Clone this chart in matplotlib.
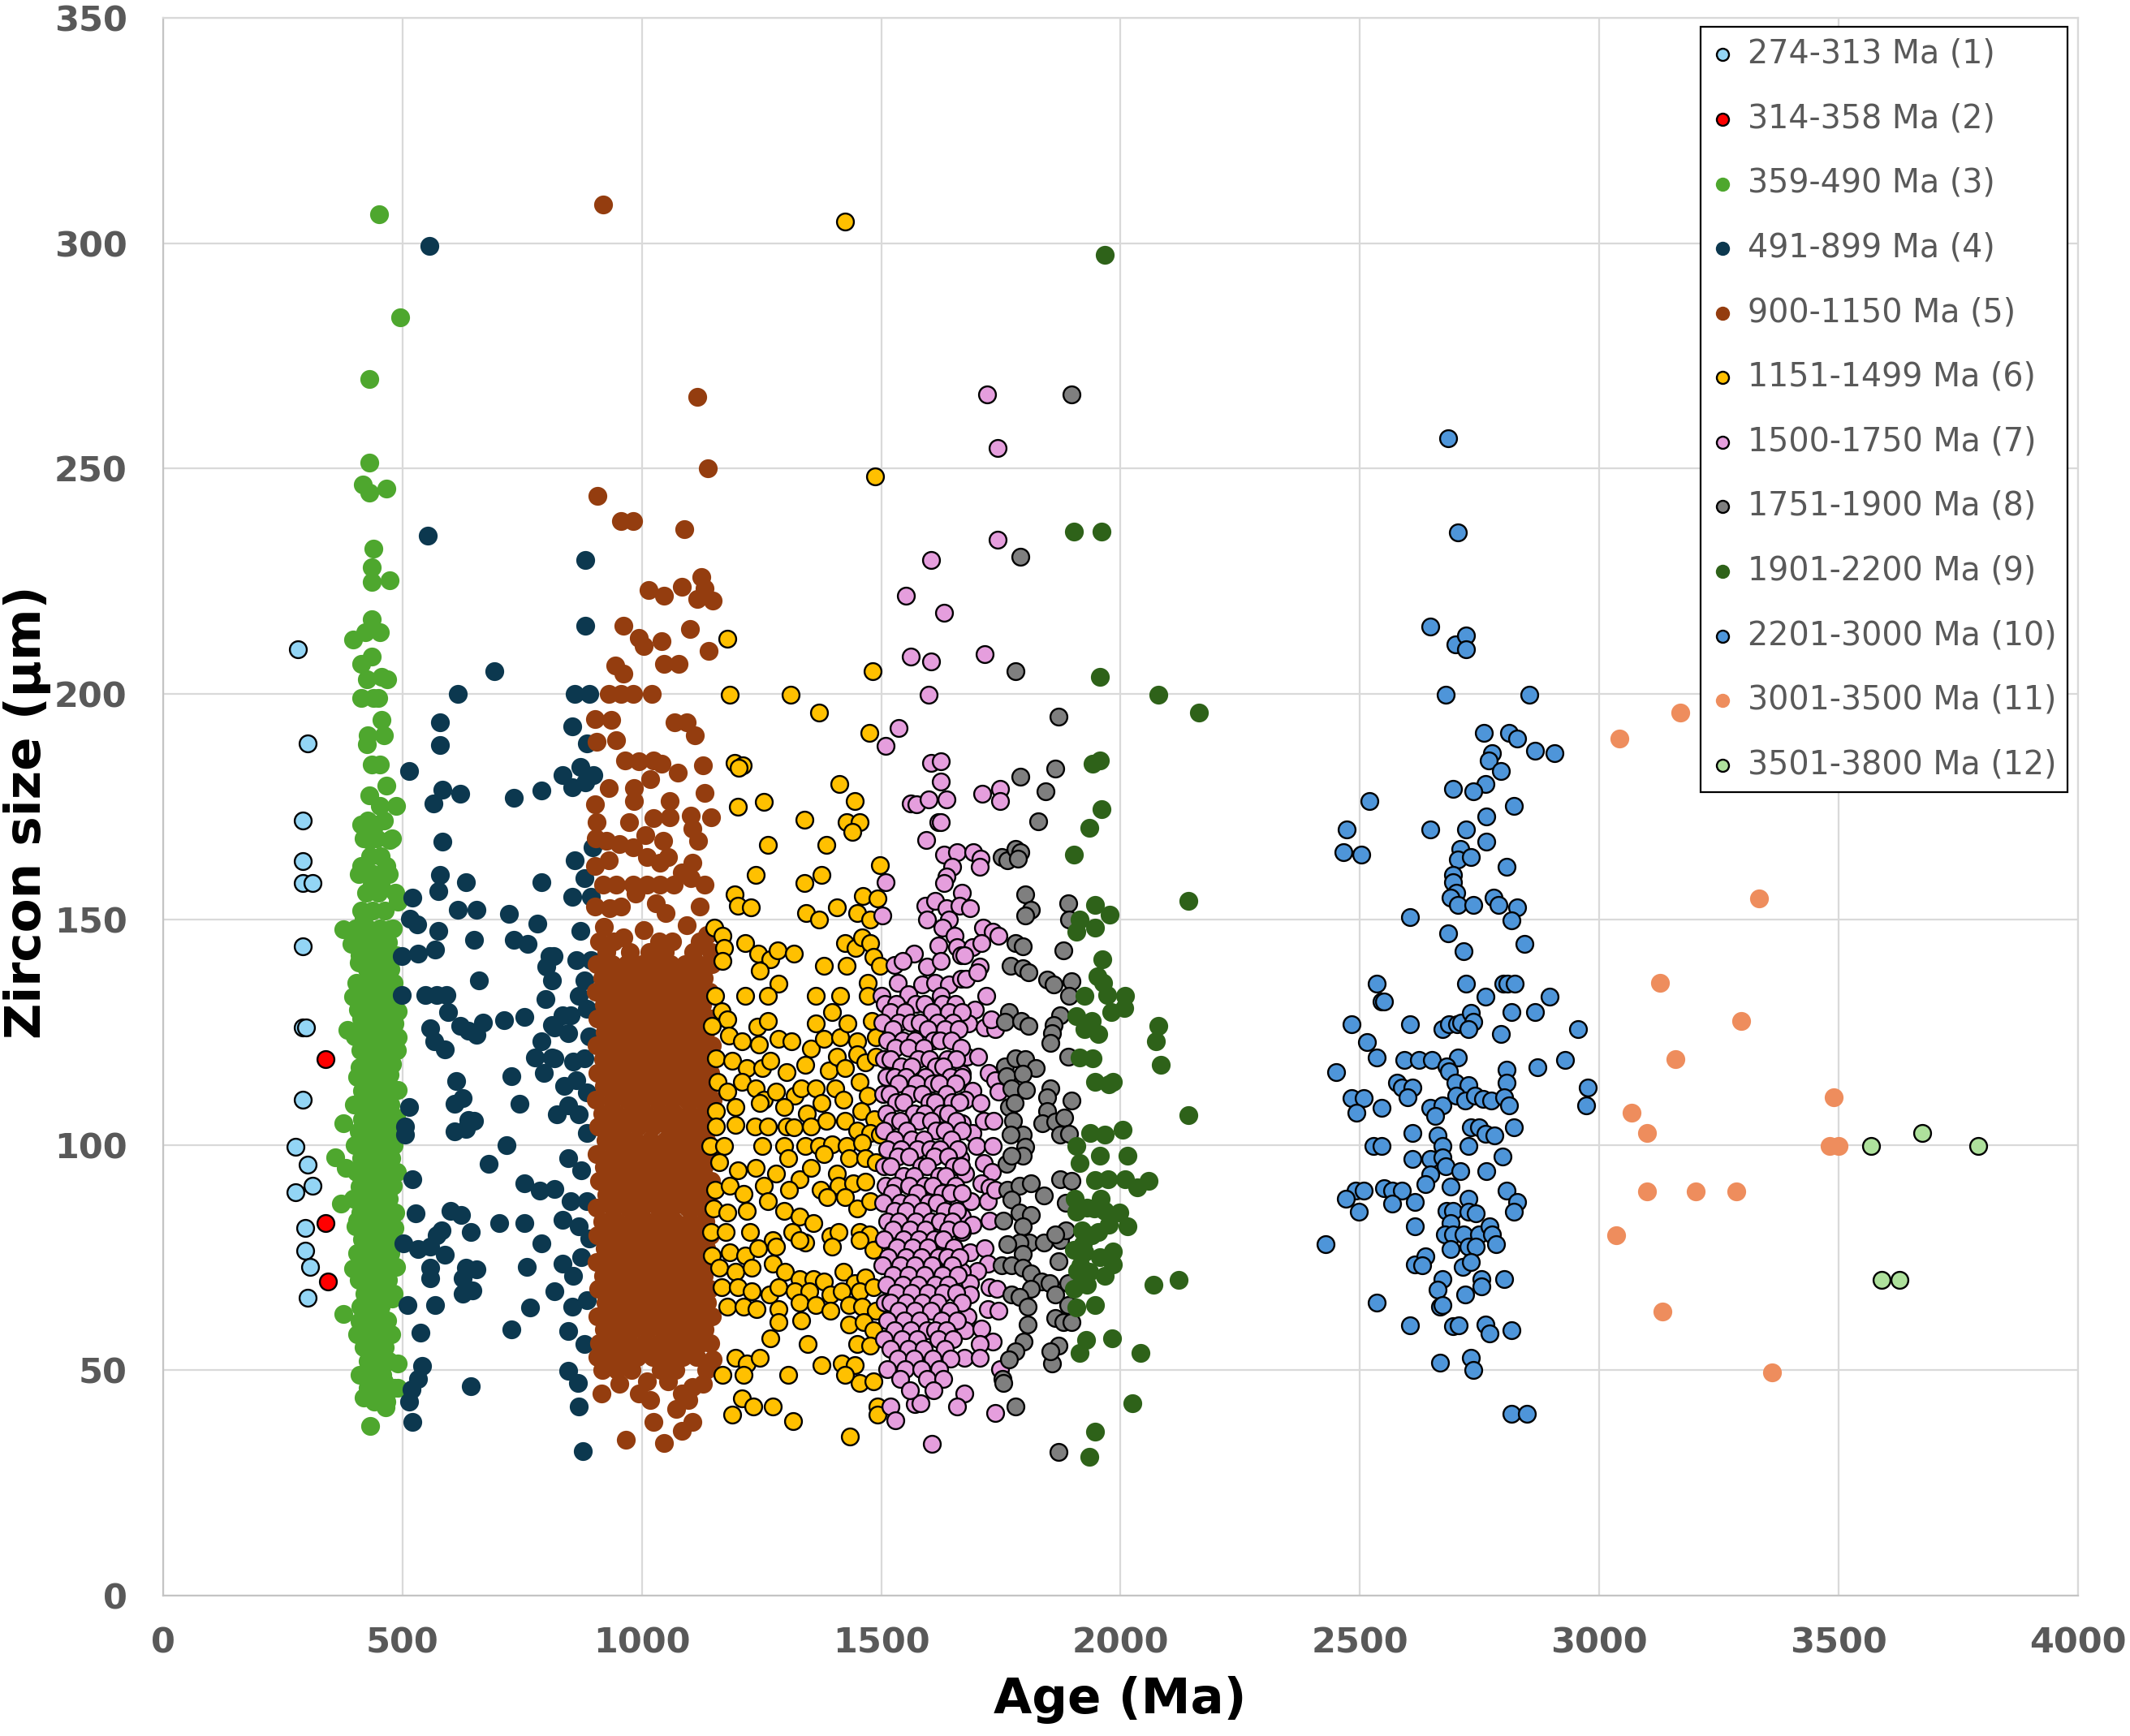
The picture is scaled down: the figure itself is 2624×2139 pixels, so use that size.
import matplotlib
matplotlib.use("Agg")
import matplotlib.pyplot as plt

labels = ["274-313 Ma (1)", "314-358 Ma (2)", "359-490 Ma (3)", "491-899 Ma (4)",
          "900-1150 Ma (5)", "1151-1499 Ma (6)", "1500-1750 Ma (7)", "1751-1900 Ma (8)",
          "1901-2200 Ma (9)", "2201-3000 Ma (10)", "3001-3500 Ma (11)", "3501-3800 Ma (12)"]
colors = ["#93d5f5", "#ff0000", "#4ea72e", "#0c384f", "#943d0f", "#ffc000",
          "#e59edd", "#7f7f7f", "#2e6219", "#4e95d9", "#ee8d5d", "#aee19c"]
edged = [True, True, False, False, False, True, True, True, False, True, False, True]

x_ticks = [0, 500, 1000, 1500, 2000, 2500, 3000, 3500, 4000]
y_ticks = [0, 50, 100, 150, 200, 250, 300, 350]

# (age Ma, size um)
pts_1 = [(282, 210), (302, 189), (292, 172), (292, 163), (292, 158), (312, 158), (292, 144),
         (292, 126), (299, 126), (292, 110), (276, 99.5), (302, 95.6), (276, 89.5), (312, 91),
         (297, 81.5), (297, 76.5), (307, 73), (302, 66)]

pts_2 = [(339, 119), (339, 82.7), (344, 69.7)]

pts_3 = [(451, 306.5), (495, 283.6), (430, 269.9), (430, 251.3), (417, 246.4), (430, 244.7),
         (467, 245.5), (440, 232.3), (436, 228.1), (436, 224.8), (473, 225.2), (436, 216.5),
         (397, 212.1), (422, 213.7), (453, 213.7), (436, 208.3), (414, 206.6), (425, 203.3),
         (456, 203.8), (468, 203.3), (414, 199.2), (439, 199.2), (450, 199.2), (456, 194.2),
         (428, 190.9), (462, 190.9), (425, 188.9), (436, 184.3), (453, 184.3), (467, 179.6),
         (431, 177.6), (487, 175.1), (453, 175.1), (414, 171), (442, 171), (431, 167.7),
         (473, 167.7), (414, 161.9), (467, 161.9), (436, 157.8), (490, 154), (456, 157),
         (377, 147.8), (419, 150.3), (473, 147.8), (394, 144.5), (439, 144.5), (408, 140.4),
         (467, 138.7), (416, 135.4), (456, 135.4), (490, 129.6), (397, 132.9), (433, 132.4),
         (467, 132.9), (385, 125.5), (414, 128), (450, 127.1), (490, 123.8), (419, 121.4),
         (456, 120.5), (411, 117.2), (433, 118), (473, 115.5), (425, 112.2), (490, 112.2),
         (459, 109.7), (377, 104.8), (416, 105.6), (439, 104), (487, 105.6), (490, 102.3),
         (462, 102.3), (360, 97.3), (382, 94.8), (419, 95.7), (450, 95.7), (479, 94),
         (371, 86.9), (411, 90.7), (439, 88.2), (470, 85.7), (405, 83.2), (433, 80.8),
         (484, 81.6), (397, 72.5), (433, 74.1), (467, 75.8), (442, 68.3), (377, 62.5),
         (411, 60.9), (450, 61.7), (479, 65.8), (422, 55.9), (456, 54.3), (433, 50.9),
         (490, 51.4), (462, 47.6), (419, 44), (464, 41.8), (490, 46), (433, 37.7)]
rows_3 = {172: [428, 462], 168: [418, 446, 478], 164: [432, 455], 160: [409, 440, 471],
          156: [424, 450, 485], 152: [414, 437, 463], 148: [402, 428, 452, 480],
          145: [420, 445, 470], 142: [410, 433, 458, 486], 139: [425, 448, 474],
          136: [403, 438, 460, 482], 133: [415, 451, 476], 130: [407, 429, 443, 468],
          127: [420, 436, 458, 484], 124: [400, 431, 449, 472], 121: [412, 440, 465, 488],
          118: [423, 447, 479], 115: [405, 434, 456, 470], 112: [416, 441, 462, 484],
          109: [398, 427, 452, 475], 106: [419, 438, 466, 487], 103: [408, 430, 449, 471],
          100: [400, 421, 444, 460, 482], 97: [413, 435, 455, 477], 94: [404, 428, 447, 468, 489],
          91: [418, 439, 458, 480], 88: [396, 425, 450, 472], 85: [412, 436, 461, 485],
          82: [402, 421, 446, 469], 79: [415, 440, 457, 479], 76: [405, 428, 452, 474],
          73: [418, 437, 463, 486], 70: [409, 431, 448, 470], 67: [420, 443, 460, 481],
          64: [412, 435, 455], 61: [424, 446, 468], 58: [406, 430, 452, 477],
          55: [418, 440, 463], 52: [427, 448, 472], 49: [411, 437, 458], 46: [428, 452, 483],
          43: [441, 466]}

pts_4 = [(557, 299.5), (552, 235.1), (691, 205), (616, 200), (579, 193.7), (579, 188.7),
         (514, 182.9), (584, 178.8), (564, 175.7), (621, 177.8), (733, 176.9), (791, 178.6),
         (584, 167.2), (579, 159.9), (574, 156.3), (633, 158.3), (791, 158.3), (521, 154.8),
         (516, 150.1), (530, 148.9), (616, 152.1), (654, 152.1), (722, 151.3), (781, 149.1),
         (574, 147.4), (568, 143.4), (649, 145.4), (733, 145.4), (762, 144.5), (499, 141.8),
         (533, 142.4), (807, 141.8), (801, 139.5), (660, 136.5), (499, 133.2), (547, 133.2),
         (572, 133.2), (591, 133.2), (798, 132.4), (595, 129.4), (558, 125.9), (567, 122.9),
         (589, 121.2), (620, 126.3), (637, 125.3), (654, 124.4), (668, 127.1), (712, 127.7),
         (754, 128.3), (790, 122.9), (776, 119.4), (812, 119.4), (795, 115.9), (812, 126.5),
         (612, 114.1), (727, 115.3), (744, 109.1), (609, 109.1), (626, 110.3), (514, 108.4),
         (505, 104.1), (505, 102.3), (609, 102.9), (632, 103.5), (649, 105.3), (637, 105.5),
         (718, 100), (680, 95.8), (521, 92.3), (754, 91.4), (787, 89.9), (527, 84.8),
         (601, 85.4), (623, 84.4), (643, 80.7), (581, 81.1), (572, 79.9), (502, 78.1),
         (533, 76.9), (558, 77.5), (589, 75.7), (702, 82.6), (754, 82.6), (790, 78.1),
         (558, 72.8), (558, 70.4), (632, 72.8), (654, 72.4), (626, 70.4), (760, 73),
         (510, 64.5), (568, 64.5), (626, 66.9), (646, 67.7), (766, 63.9), (537, 58.3),
         (728, 59), (541, 51), (533, 48), (643, 46.5), (519, 45.8), (513, 43), (520, 38.6),
         (882, 229.7), (882, 215.1), (860, 200), (891, 200), (854, 192.8), (885, 189.1),
         (871, 183.9), (899, 182.1), (834, 182.1), (854, 179.3), (882, 180.4), (897, 166),
         (860, 163.2), (880, 159.1), (854, 155), (894, 155), (871, 147.4), (815, 141.9),
         (863, 140.9), (894, 140.9), (812, 136.4), (880, 136.4), (869, 133), (834, 128.8),
         (851, 128.8), (885, 130.2), (818, 126.1), (846, 124.7), (891, 124), (818, 119.2),
         (857, 118.5), (880, 119.2), (837, 113), (863, 114.4), (885, 111.6), (823, 106.8),
         (846, 108.8), (869, 106.8), (885, 102.6), (846, 97.1), (874, 94.4), (818, 90.2),
         (851, 87.5), (885, 87.5), (834, 83.4), (868, 82), (891, 79.2), (834, 73.7),
         (857, 71), (874, 75.1), (818, 67.5), (854, 64.1), (885, 65.5), (846, 58.6),
         (880, 55.8), (846, 49.8), (866, 47.1), (869, 42), (877, 32)]

pts_5 = [(919, 308.6), (1116, 266), (1137, 250), (908, 244), (956, 238.3), (981, 238.3),
         (1089, 236.6), (1014, 223.1), (1046, 221.8), (1084, 223.8), (1125, 225.9),
         (1116, 221.1), (1148, 220.7), (1131, 223.5), (962, 215.1), (993, 212.4), (1004, 210.7),
         (1041, 211.8), (1100, 214.5), (1140, 209.6), (945, 206.3), (962, 204.5), (1046, 206.6),
         (1077, 206.6), (931, 200), (956, 200), (981, 200), (1020, 200), (902, 194.5),
         (936, 194.2), (905, 189.4), (946, 189.7), (1069, 193.8), (1094, 193.8), (1111, 190.8),
         (964, 185.3), (993, 185), (1024, 185.3), (1017, 181.1), (1041, 184.6), (931, 179.1),
         (984, 179.1), (984, 176.3), (1075, 182.5), (1128, 184.2), (902, 175.6), (905, 171.5),
         (973, 171.5), (1007, 168.7), (1024, 172.5), (1058, 176.3), (1058, 172.6), (1103, 173.1),
         (1131, 178), (1145, 172.6), (903, 168), (925, 167.4), (953, 166.7), (981, 166),
         (1010, 163.9), (1044, 167.4), (1117, 167.4), (1106, 170.1), (902, 161.9), (931, 163.2),
         (1038, 162.5), (1055, 163.9), (1083, 160.5), (1106, 162.5), (919, 157.7), (947, 157.7),
         (981, 157.7), (1010, 157.7), (1038, 157.7), (1066, 157.7), (1103, 159.1), (1131, 157.7),
         (902, 152.9), (933, 152.5), (956, 152.9), (987, 155.7), (1029, 153.6), (1049, 151.5),
         (1120, 152.9), (908, 53), (916, 44.8), (953, 46.9), (993, 44.8), (1010, 47.6),
         (1018, 43.4), (1055, 47.6), (1083, 44.8), (1106, 46.2), (1128, 46.9), (1148, 52.4),
         (967, 34.5), (1046, 33.8), (1024, 38.6), (1083, 36.5), (1106, 38.6), (1072, 41.4),
         (1097, 43.4), (921, 148.3), (1003, 147.6), (1093, 148.8), (962, 146.1), (1136, 146.6)]
rows_5 = {145.2: [910, 941, 1036, 1064, 1121],
          142.8: [925, 975, 1015, 1048, 1108, 1144],
          140: [906, 938, 969, 1000, 1029, 1060, 1090, 1117, 1146],
          137: [918, 950, 981, 1012, 1043, 1071, 1101, 1130],
          134: [904, 933, 963, 994, 1024, 1054, 1085, 1113, 1142],
          131: [921, 948, 977, 1008, 1038, 1067, 1097, 1126],
          128: [908, 936, 966, 996, 1027, 1057, 1088, 1116, 1145],
          125: [923, 952, 983, 1013, 1045, 1074, 1103, 1133],
          122: [905, 937, 968, 999, 1030, 1061, 1091, 1120, 1147],
          119: [919, 949, 980, 1010, 1041, 1070, 1100, 1129],
          116: [907, 934, 964, 993, 1025, 1056, 1086, 1114, 1143],
          113: [921, 953, 985, 1016, 1047, 1077, 1107, 1136],
          110: [904, 938, 970, 1001, 1032, 1063, 1094, 1123, 1148],
          107: [917, 947, 978, 1009, 1040, 1068, 1099, 1131],
          104: [909, 935, 962, 992, 1023, 1055, 1084, 1113, 1141],
          101: [924, 955, 986, 1018, 1049, 1079, 1106, 1135],
          98: [906, 939, 971, 1003, 1033, 1062, 1092, 1121, 1146],
          95: [920, 950, 982, 1012, 1043, 1073, 1102, 1130],
          92: [910, 936, 965, 996, 1027, 1058, 1088, 1117, 1144],
          89: [925, 954, 987, 1017, 1048, 1078, 1108, 1137],
          86: [905, 940, 972, 1001, 1034, 1064, 1095, 1124, 1148],
          83: [918, 948, 979, 1010, 1040, 1069, 1100, 1132],
          80: [908, 934, 963, 994, 1025, 1056, 1085, 1115, 1143],
          77: [922, 953, 984, 1015, 1046, 1076, 1105, 1134],
          74: [906, 937, 968, 999, 1031, 1061, 1091, 1120, 1147],
          71: [919, 949, 981, 1011, 1042, 1072, 1101, 1129],
          68: [909, 935, 966, 997, 1028, 1058, 1088, 1117, 1142],
          65: [924, 955, 985, 1016, 1047, 1077, 1107, 1136],
          62: [907, 940, 971, 1002, 1033, 1063, 1094, 1125, 1146],
          59: [920, 951, 982, 1013, 1044, 1074, 1103, 1131],
          56: [911, 943, 973, 1005, 1036, 1066, 1096, 1122, 1143],
          53: [928, 960, 991, 1023, 1054, 1085, 1114],
          50: [917, 948, 979, 1040, 1070, 1134]}

pts_6 = [(1424, 304.8), (1487, 248.3), (1179, 212.2), (1482, 205), (1184, 199.9), (1311, 199.9),
         (1370, 195.9), (1476, 191.3), (1194, 184.8), (1211, 184.1), (1202, 183.6), (1413, 180),
         (1200, 175), (1254, 176), (1444, 176.2), (1339, 172.2), (1428, 171.6), (1455, 171.6),
         (1439, 169.4), (1264, 166.6), (1386, 166.6), (1498, 162), (1237, 159.8), (1339, 158),
         (1375, 159.8), (1194, 155.5), (1461, 155.2), (1492, 154.7),
         (1201, 153), (1227, 152.7), (1343, 151.5), (1370, 150), (1407, 152.7), (1449, 151.5),
         (1477, 150), (1151, 148.2), (1168, 146.4), (1172, 143.6), (1168, 140.8), (1216, 144.7),
         (1243, 142.5), (1268, 141.2), (1284, 143.2), (1318, 142.5), (1247, 138.6), (1285, 135.8),
         (1381, 139.7), (1428, 139.7), (1425, 144.7), (1446, 143.6), (1460, 146), (1477, 144.7),
         (1483, 141.7), (1498, 139.7), (1471, 135.9), (1471, 133), (1153, 133), (1216, 133),
         (1264, 133), (1364, 133), (1414, 133), (1397, 129.5),
         (1166, 129.7), (1178, 127.8), (1147, 126.3), (1182, 124.3), (1209, 123), (1241, 126.2),
         (1264, 127.4), (1245, 122.2), (1285, 123.5), (1312, 123), (1353, 121.3), (1364, 126.9),
         (1381, 123.5), (1414, 123.9), (1429, 126.9), (1449, 123), (1481, 127.4), (1489, 123.9),
         (1155, 119.1), (1189, 118.7), (1220, 117), (1251, 117), (1268, 118.7), (1302, 116.1),
         (1342, 117.8), (1390, 116.5), (1407, 119.6), (1424, 117.1), (1449, 120), (1466, 118.3),
         (1489, 119.6), (1158, 113.9), (1179, 111.8), (1209, 113.9), (1237, 112.6), (1254, 110),
         (1281, 111.8), (1319, 110.9), (1333, 112.6), (1364, 112.6), (1404, 112.6), (1421, 110),
         (1455, 113.9), (1472, 110.9), (1154, 107.4), (1195, 108.3), (1246, 109.2), (1297, 108.3),
         (1345, 107), (1376, 109.2), (1424, 105.3), (1458, 107.4), (1486, 105.7), (1155, 104),
         (1195, 104.4), (1236, 104), (1263, 104), (1302, 104), (1318, 103.8), (1353, 104),
         (1386, 105.3), (1449, 103.1), (1477, 102.7), (1497, 102.2), (1143, 99.8), (1172, 99.8),
         (1251, 99.8), (1297, 99.8), (1342, 99.8), (1370, 99.8), (1398, 100.1), (1427, 99.8),
         (1460, 100.5),
         (1161, 96.2), (1201, 94.3), (1237, 94.9), (1280, 93.6), (1305, 97), (1330, 92.3),
         (1353, 94.9), (1381, 97.9), (1407, 93.6), (1432, 97), (1466, 97), (1489, 96.2),
         (1153, 90.1), (1184, 91), (1212, 89.2), (1254, 91), (1308, 90.1), (1373, 90.1),
         (1410, 91), (1441, 91.4), (1466, 91.8), (1150, 85.8), (1178, 84.9), (1220, 85.3),
         (1263, 87.5), (1297, 85.3), (1330, 84), (1359, 82.7), (1387, 88.4), (1424, 88.4),
         (1449, 85.8), (1477, 87.5), (1144, 80.6), (1175, 80.6), (1226, 80.6), (1274, 78.8),
         (1314, 80.6), (1342, 78.4), (1393, 79.7), (1410, 80.6), (1455, 80.6), (1475, 80.1),
         (1147, 75.4), (1184, 76.2), (1215, 75.4), (1243, 77.1), (1280, 77.5), (1330, 78.8),
         (1398, 77.5), (1455, 78.8), (1483, 76.7),
         (1161, 72.8), (1195, 71.9), (1229, 72.8), (1274, 73.6), (1299, 71.9), (1330, 70.2),
         (1359, 70.2), (1381, 69.7), (1421, 71.9), (1444, 69.3), (1466, 70.6), (1167, 68.4),
         (1201, 68.4), (1229, 67.5), (1266, 66.7), (1285, 68.4), (1319, 67.5), (1350, 67.5),
         (1393, 66.7), (1418, 67.5), (1455, 67.5), (1483, 68.4), (1178, 64.1), (1212, 64.1),
         (1240, 63.6), (1285, 63.6), (1330, 65), (1364, 64.5), (1393, 63.2), (1432, 64.5),
         (1460, 64.1), (1489, 63.2), (1268, 57.1), (1285, 60.6), (1333, 61), (1347, 55.8),
         (1432, 60.2), (1463, 60.6), (1483, 58.9), (1449, 55.8), (1477, 55.4),
         (1195, 52.8), (1220, 51.5), (1247, 52.8), (1168, 48.9), (1212, 48.9), (1305, 48.9),
         (1375, 51.1), (1418, 51.5), (1444, 51.1), (1455, 47.2), (1424, 48.9), (1483, 47.6),
         (1209, 43.7), (1232, 42), (1274, 42), (1189, 40.2), (1316, 38.7), (1492, 42),
         (1492, 40.2), (1434, 35.3)]

pts_7 = [(1721, 266.5), (1743, 254.6), (1743, 234.3), (1604, 229.8), (1551, 221.9), (1631, 218),
         (1562, 208.3), (1604, 207.2), (1716, 208.9), (1599, 199.9), (1536, 192.5), (1509, 188.5),
         (1604, 184.8), (1625, 185.1), (1625, 180.6), (1561, 175.7), (1573, 175.5), (1599, 176.7),
         (1636, 176.7), (1711, 177.9), (1748, 179), (1748, 176.2), (1619, 171.5), (1625, 171.5),
         (1594, 167.6), (1631, 164.4), (1659, 164.9), (1693, 164.9), (1707, 163.4), (1648, 161.6),
         (1705, 161.6), (1637, 159.6), (1631, 158.1), (1509, 158.2), (1668, 156),
         (1503, 150.8), (1593, 153), (1613, 154.2), (1636, 152.5), (1664, 153), (1596, 149.9),
         (1641, 149.9), (1627, 148.2), (1653, 146.4), (1619, 144.3), (1658, 143.8), (1568, 142.5),
         (1528, 139.9), (1545, 140.8), (1596, 139.5), (1624, 140.8), (1667, 142.1), (1500, 133),
         (1534, 136), (1557, 133.4), (1585, 135.6), (1613, 136), (1641, 135.6), (1667, 136.9),
         (1624, 133),
         (1685, 152.5), (1713, 148.2), (1733, 147.3), (1744, 146.4), (1690, 143.8), (1710, 144.7),
         (1673, 142), (1705, 139.5), (1677, 136.9), (1700, 138.2), (1695, 130), (1720, 133),
         (1682, 126.9), (1716, 126), (1738, 125.6), (1730, 127.8), (1679, 119.6), (1702, 119.6),
         (1668, 115.7), (1725, 116), (1738, 114.4), (1744, 111.8), (1690, 112), (1676, 110),
         (1707, 109.3), (1668, 104.8), (1690, 102.7), (1715, 105.3), (1735, 105.3), (1699, 99.8),
         (1733, 99.8), (1715, 96), (1665, 97), (1732, 94), (1676, 93.6), (1710, 91.4),
         (1727, 90.5), (1660, 88), (1688, 87.5), (1722, 87.5), (1738, 90.1), (1668, 84),
         (1690, 82.3), (1727, 83.1), (1668, 80.6), (1685, 76.2), (1716, 77.1), (1722, 73.6),
         (1700, 72), (1668, 71.9), (1685, 69.3), (1685, 66.7), (1727, 68.4), (1741, 68),
         (1722, 63.6), (1744, 63.2), (1680, 62), (1676, 58.9), (1710, 59.3), (1733, 56.3),
         (1705, 55.8), (1673, 52.8), (1705, 52.8), (1749, 50.2), (1673, 44.8), (1659, 42),
         (1738, 40.5), (1519, 42), (1530, 38.8), (1571, 42.4), (1582, 42.7), (1605, 33.6)]
rows_7 = {131.2: [1508, 1531, 1572, 1590, 1628, 1655], 129.4: [1520, 1549, 1606, 1641, 1668],
          127.1: [1503, 1537, 1562, 1581, 1617, 1650], 125.6: [1525, 1597, 1633, 1661],
          123.2: [1512, 1544, 1570, 1609, 1622, 1646], 121.5: [1530, 1556, 1588, 1667],
          119.0: [1505, 1519, 1577, 1600, 1638, 1657], 117.3: [1541, 1563, 1615, 1629],
          115.1: [1510, 1527, 1552, 1593, 1644, 1669], 113.6: [1536, 1574, 1607, 1621, 1655],
          111.2: [1504, 1518, 1560, 1585, 1636], 109.4: [1532, 1547, 1601, 1613, 1648, 1664],
          107.0: [1511, 1568, 1590, 1626, 1640], 105.3: [1523, 1540, 1579, 1604, 1657],
          103.1: [1506, 1553, 1615, 1633, 1668], 101.2: [1528, 1564, 1589, 1647],
          99.0: [1513, 1542, 1576, 1602, 1623, 1660], 97.4: [1534, 1559, 1611, 1639],
          95.2: [1505, 1520, 1583, 1596, 1651, 1667], 93.1: [1546, 1569, 1621, 1635],
          91.0: [1509, 1530, 1558, 1590, 1608, 1655], 89.3: [1522, 1575, 1628, 1645, 1669],
          87.2: [1504, 1540, 1563, 1599, 1616], 85.4: [1527, 1551, 1586, 1633, 1659],
          83.0: [1512, 1537, 1572, 1604, 1622, 1648], 81.2: [1525, 1560, 1593, 1640, 1666],
          79.1: [1506, 1547, 1578, 1611, 1629], 77.3: [1533, 1565, 1598, 1652],
          75.0: [1515, 1551, 1584, 1619, 1638, 1664], 73.2: [1503, 1539, 1571, 1606, 1648],
          71.1: [1524, 1557, 1590, 1627, 1660], 69.0: [1510, 1545, 1577, 1613, 1640],
          67.2: [1531, 1563, 1598, 1630, 1656], 65.0: [1507, 1520, 1552, 1585, 1618, 1668],
          63.1: [1537, 1571, 1604, 1643], 61.0: [1513, 1548, 1580, 1626, 1658],
          58.9: [1528, 1561, 1595, 1612, 1637], 56.8: [1506, 1543, 1575, 1620, 1650],
          54.7: [1519, 1556, 1589, 1633], 52.5: [1534, 1568, 1607, 1645],
          50.2: [1512, 1550, 1583, 1621], 48.0: [1540, 1596, 1630], 45.6: [1560, 1610]}

pts_8 = [(1898, 266.5), (1791, 230.4), (1780, 205), (1871, 194.9), (1791, 181.7), (1864, 183.5),
         (1844, 178.5), (1828, 171.7), (1752, 163.8), (1764, 163.1), (1780, 165.6), (1791, 164.9),
         (1786, 163.5), (1801, 155.5), (1891, 153.5),
         (1812, 152.1), (1801, 150.8), (1892, 149.9), (1781, 144.7), (1795, 144), (1881, 143.2),
         (1770, 139.7), (1795, 139.1), (1807, 138.2), (1846, 136.7), (1860, 135.6), (1897, 136.2),
         (1892, 133), (1767, 129.5), (1758, 127.2), (1792, 127.4), (1807, 126.3), (1874, 128.7),
         (1860, 126.5), (1857, 124.8), (1854, 122.6), (1891, 119.6), (1758, 117.4), (1781, 119.1),
         (1801, 119), (1823, 117.1), (1761, 115.2), (1795, 115.7), (1854, 112.6), (1846, 110.5),
         (1897, 109.9), (1846, 107.4), (1772, 112.6), (1803, 112.2), (1767, 108.3), (1778, 109.2),
         (1775, 105.3), (1795, 102.2), (1770, 102.2), (1801, 99.6), (1795, 97.6), (1761, 95.7),
         (1772, 97.5), (1837, 104.8), (1863, 105.1), (1882, 106.1), (1874, 102.2), (1892, 102.5),
         (1764, 90.1), (1789, 91), (1812, 91.4), (1772, 87.9), (1840, 88.8), (1874, 92.3),
         (1897, 92), (1885, 87.1), (1755, 83.1), (1789, 84.9), (1812, 84.5), (1795, 81.9),
         (1809, 78.4), (1789, 78.4), (1840, 78.4), (1764, 78), (1874, 78.8), (1885, 81),
         (1871, 74.1), (1863, 80.1), (1795, 75.8), (1752, 73.2), (1772, 73.2), (1795, 72.8),
         (1812, 71.5), (1834, 69.7), (1851, 69.3), (1863, 66.7), (1891, 69.3), (1812, 68),
         (1772, 66.7), (1789, 66.3), (1806, 64.1), (1806, 60.2), (1863, 61.5), (1880, 60.6),
         (1897, 60.6), (1891, 64.5), (1798, 56.3), (1781, 54.1), (1767, 52.4), (1871, 55.4),
         (1857, 51.5), (1854, 54.1), (1753, 48.1), (1755, 47.2), (1781, 42), (1871, 31.8)]

pts_9 = [(1967, 297.5), (1903, 236), (1961, 236), (1956, 203.8), (2079, 199.9), (2163, 195.9),
         (1941, 184.6), (1956, 185.2), (1961, 174.5), (1935, 170.4), (1903, 164.4),
         (2142, 154.2), (1946, 153.2), (1977, 151), (1914, 149.9), (1908, 147.3), (1946, 148.2),
         (1962, 141.2), (1952, 137.3), (1964, 136), (1925, 133), (1972, 133.2), (2010, 133),
         (1981, 129.5), (2007, 130.4), (1908, 128.5), (1939, 127.4), (1925, 125.6), (1953, 124.6),
         (2079, 126.3), (2073, 122.9), (2084, 117.8), (1914, 119.4), (1942, 119.1), (1947, 113.9),
         (1976, 113.5), (1984, 113.9), (2142, 106.6), (1936, 102.7), (1967, 102.2), (2004, 103.3),
         (1908, 99.8), (1956, 97.6), (1914, 95.9), (2015, 97.6), (1947, 92.1), (1973, 92.3),
         (2010, 92.3), (2035, 90.5), (2058, 92), (1908, 85.1), (1945, 85.8), (1967, 85.3),
         (1998, 84.9), (2015, 81.9), (1919, 81), (1953, 80.6), (1976, 82.3), (1902, 76.7),
         (1925, 76.2), (1984, 76.4), (1984, 73.4), (1916, 73.2), (1935, 71.9), (1919, 69.7),
         (1967, 71), (1902, 68), (1930, 68.9), (2069, 69), (2121, 70.1), (1908, 63.9),
         (1947, 64.5), (1928, 56.7), (1914, 53.9), (1983, 57.1), (2042, 53.9), (2025, 42.6),
         (1946, 36.3), (1935, 30.7), (1905, 88), (1930, 86), (1958, 88), (1922, 78), (1940, 80),
         (1910, 72), (1957, 75)]

pts_10 = [(2685, 256.7), (2705, 235.8), (2647, 215), (2699, 211), (2721, 212.9), (2721, 209.9),
          (2679, 199.8), (2854, 199.8), (2758, 191.4), (2811, 191.4), (2828, 190.2), (2865, 187.4),
          (2907, 186.9), (2775, 186.9), (2769, 185.3), (2795, 183), (2763, 180.1), (2695, 179),
          (2737, 178.4), (2520, 176.3), (2822, 175.1), (2764, 172.9), (2472, 170), (2647, 170),
          (2721, 170), (2764, 167.2), (2466, 164.9), (2503, 164.4), (2710, 165.6), (2705, 163.3),
          (2732, 163.9), (2806, 161.7), (2695, 159.9), (2695, 158.2), (2701, 156), (2689, 154.8),
          (2705, 153.2), (2737, 153.2), (2779, 154.9), (2790, 153.2), (2828, 152.7), (2605, 150.5),
          (2816, 149.8), (2684, 146.9), (2844, 144.6), (2716, 142.9), (2535, 135.7), (2721, 135.7),
          (2799, 135.7), (2808, 135.7), (2823, 135.7), (2763, 132.9), (2897, 132.9), (2545, 131.7),
          (2551, 131.7), (2816, 129.5), (2865, 129.5), (2482, 126.7), (2605, 126.7), (2955, 125.6),
          (2672, 125.6), (2686, 126.7), (2703, 126.7), (2712, 127.1), (2732, 129.2), (2737, 127.3),
          (2726, 125.6), (2795, 124.5), (2514, 122.8), (2535, 119.4), (2593, 118.8), (2624, 118.8),
          (2651, 118.8), (2705, 119.4), (2681, 117.4), (2686, 116.3), (2806, 116.7), (2870, 117.2),
          (2928, 118.8), (2450, 116.1), (2806, 113.8), (2976, 112.7), (2972, 108.8), (2578, 113.8),
          (2588, 112.7), (2610, 112.7), (2599, 110.6), (2699, 113.8), (2726, 113.2), (2482, 110.4),
          (2508, 110.4), (2493, 107.1), (2545, 108.2), (2647, 108.2), (2672, 108.8), (2657, 106.4),
          (2701, 110.9), (2720, 109.8), (2740, 110.9), (2757, 110.2), (2774, 109.8), (2801, 110.6),
          (2812, 108.8), (2610, 102.7), (2662, 102), (2732, 103.8), (2749, 103.8), (2763, 102.5),
          (2781, 102), (2822, 103.8), (2528, 99.8), (2546, 99.8), (2673, 99.8), (2726, 99.8),
          (2797, 97.4), (2609, 96.9), (2647, 96.9), (2673, 97.3), (2679, 95.3), (2710, 94.2),
          (2764, 94.2), (2647, 93.5), (2636, 91.3), (2689, 90.8), (2491, 89.8), (2508, 89.8),
          (2471, 88), (2497, 85.1), (2551, 90.3), (2568, 89.8), (2588, 89.8), (2567, 86.9),
          (2615, 87.4), (2726, 88.1), (2806, 89.8), (2828, 87.4), (2822, 85.1), (2681, 85.3),
          (2695, 85.3), (2726, 85.1), (2742, 84.8), (2689, 82.6), (2615, 81.9), (2678, 80.2),
          (2695, 80.2), (2716, 80.2), (2749, 80.2), (2770, 81.9), (2775, 80.2), (2785, 78),
          (2726, 77.4), (2742, 77.4), (2689, 76.9), (2429, 78), (2615, 73.5), (2636, 75.3),
          (2630, 73.3), (2715, 72.9), (2732, 74), (2673, 70.2), (2662, 67.9), (2668, 64),
          (2673, 64.5), (2753, 70.2), (2753, 68.6), (2801, 70.2), (2720, 66.8), (2535, 65),
          (2605, 60), (2695, 59.7), (2706, 60), (2763, 60.2), (2770, 58.2), (2816, 58.9),
          (2668, 51.6), (2732, 52.8), (2737, 50), (2816, 40.4), (2849, 40.4)]

pts_11 = [(3169, 195.8), (3042, 190.2), (3334, 154.6), (3127, 135.9), (3297, 127.5), (3159, 119),
          (3489, 110.6), (3068, 107.2), (3100, 102.6), (3482, 99.8), (3499, 99.8), (3100, 89.6),
          (3202, 89.6), (3286, 89.6), (3036, 80), (3132, 63), (3360, 49.5)]

pts_12 = [(3568, 99.8), (3675, 102.6), (3792, 99.8), (3589, 70), (3627, 70)]


def expand(rows):
    return [(a, s) for s, ages in rows.items() for a in ages]


series = [pts_1, pts_2, pts_3 + expand(rows_3), pts_4, pts_5 + expand(rows_5), pts_6,
          pts_7 + expand(rows_7), pts_8, pts_9, pts_10, pts_11, pts_12]

W, H, DPI = 2624, 2139, 100
fig = plt.figure(figsize=(W / DPI, H / DPI), dpi=DPI)
ax = fig.add_axes([0.0766, 0.0809, 0.899, 0.9088])

for i, pts in enumerate(series):
    xs = [p[0] for p in pts]
    ys = [p[1] for p in pts]
    ec = "black" if edged[i] else colors[i]
    ax.scatter(xs, ys, s=225, c=colors[i], edgecolors=ec, linewidths=1.7,
               label=labels[i], zorder=3 + i)

ax.set_xlim(0, 4000)
ax.set_ylim(0, 350)
ax.set_xticks(x_ticks)
ax.set_yticks(y_ticks)
ax.grid(True, color="#d9d9d9", linewidth=1.6)
ax.set_axisbelow(True)
for sp in ax.spines.values():
    sp.set_color("#d9d9d9")
    sp.set_linewidth(1.6)
ax.spines["bottom"].set_color("#c4c4c4")
ax.spines["left"].set_color("#c4c4c4")
ax.tick_params(length=0, labelsize=31, labelcolor="#595959")
ax.tick_params(axis="x", pad=27)
ax.tick_params(axis="y", pad=32)
for t in ax.get_xticklabels() + ax.get_yticklabels():
    t.set_fontweight("bold")

fig.text(0.526, 0.0206, "Age (Ma)", ha="center", va="center", fontsize=44, fontweight="bold")
fig.text(0.0127, 0.532, "Zircon size (µm)", ha="center", va="center", rotation=90,
         fontsize=44, fontweight="bold")

leg = ax.legend(loc="upper right", bbox_to_anchor=(0.9707, 0.9846), bbox_transform=fig.transFigure,
                borderaxespad=0, fontsize=28.5, markerscale=0.72, frameon=True, fancybox=False,
                framealpha=1, edgecolor="black", borderpad=0.35, handlelength=0.65,
                handletextpad=0.45, labelspacing=1.0, scatterpoints=1)
leg.get_frame().set_linewidth(1.6)
for t in leg.get_texts():
    t.set_color("#595959")

fig.savefig("out.png", dpi=DPI)
